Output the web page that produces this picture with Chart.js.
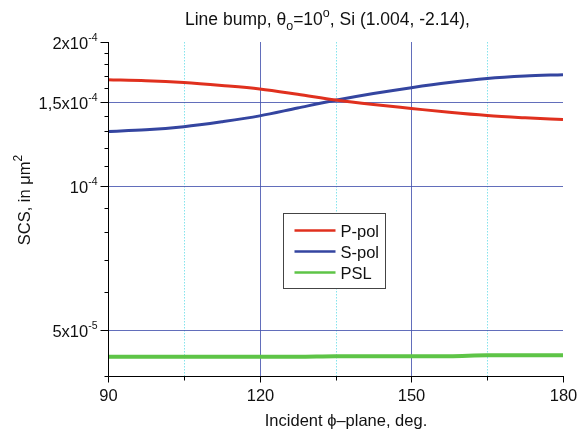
<!DOCTYPE html>
<html>
<head>
<meta charset="utf-8">
<script src="https://cdn.jsdelivr.net/npm/chart.js@4/dist/chart.umd.min.js"></script>
<style>
  html, body { margin: 0; padding: 0; background: #fff; }
  #wrap { width: 583px; height: 432px; }
</style>
</head>
<body>
<div id="wrap"><canvas id="scs" width="583" height="432"></canvas></div>
<script>
// ── Data ──────────────────────────────────────────────────────────────
const phi = [90, 97.5, 105, 112.5, 120, 127.5, 135, 142.5, 150, 157.5, 165, 172.5, 180];
const pPol = [1.668e-4, 1.660e-4, 1.645e-4, 1.622e-4, 1.595e-4, 1.555e-4, 1.513e-4, 1.480e-4, 1.452e-4, 1.425e-4, 1.403e-4, 1.388e-4, 1.376e-4];
const sPol = [1.300e-4, 1.310e-4, 1.330e-4, 1.362e-4, 1.401e-4, 1.455e-4, 1.510e-4, 1.560e-4, 1.605e-4, 1.645e-4, 1.677e-4, 1.697e-4, 1.709e-4];
const psl  = [4.39e-5, 4.39e-5, 4.39e-5, 4.39e-5, 4.39e-5, 4.39e-5, 4.40e-5, 4.40e-5, 4.40e-5, 4.40e-5, 4.42e-5, 4.42e-5, 4.42e-5];

const xMajor = [90, 120, 150, 180];
const xMinor = [105, 135, 165];
const yLabels = [
  { v: 5e-5,   base: '5x10',   exp: '-5' },
  { v: 1e-4,   base: '10',     exp: '-4' },
  { v: 1.5e-4, base: '1,5x10', exp: '-4' },
  { v: 2e-4,   base: '2x10',   exp: '-4' },
];
const yMinor = [4e-5, 6e-5, 7e-5, 8e-5, 9e-5, 1.1e-4, 1.2e-4, 1.3e-4, 1.4e-4, 1.6e-4, 1.7e-4, 1.8e-4, 1.9e-4];

const FONT = '"Liberation Sans", Arial, sans-serif';
const FS = 16.5;
const pts = ys => phi.map((x, i) => ({ x, y: ys[i] }));

// draw a row of text pieces; dy shifts baseline, size overrides font size
function drawRuns(ctx, runs, x, y, align) {
  const widths = runs.map(r => { ctx.font = `${r.size}px ${FONT}`; return ctx.measureText(r.t).width; });
  const total = widths.reduce((a, b) => a + b, 0);
  let cx = align === 'right' ? x - total : align === 'center' ? x - total / 2 : x;
  ctx.textAlign = 'left';
  ctx.textBaseline = 'alphabetic';
  runs.forEach((r, i) => {
    ctx.font = `${r.size}px ${FONT}`;
    ctx.fillText(r.t, cx, y + (r.dy || 0));
    cx += widths[i];
  });
}

// ── Grid lines under the curves ───────────────────────────────────────
const gridPlugin = {
  id: 'gridLines',
  beforeDatasetsDraw(chart) {
    const { ctx, chartArea: a, scales: { x, y } } = chart;
    ctx.save();
    ctx.lineWidth = 1;
    ctx.strokeStyle = 'rgba(120,225,235,0.9)';
    ctx.setLineDash([1.5, 1.5]);
    xMinor.forEach(v => {
      const px = Math.round(x.getPixelForValue(v)) + 0.5;
      ctx.beginPath(); ctx.moveTo(px, a.top); ctx.lineTo(px, a.bottom); ctx.stroke();
    });
    ctx.setLineDash([]);
    ctx.strokeStyle = 'rgba(70,85,175,0.85)';
    [120, 150].forEach(v => {
      const px = Math.round(x.getPixelForValue(v)) + 0.5;
      ctx.beginPath(); ctx.moveTo(px, a.top); ctx.lineTo(px, a.bottom); ctx.stroke();
    });
    [5e-5, 1e-4, 1.5e-4].forEach(v => {
      const py = Math.round(y.getPixelForValue(v)) + 0.5;
      ctx.beginPath(); ctx.moveTo(a.left, py); ctx.lineTo(a.right, py); ctx.stroke();
    });
    ctx.restore();
  },
};

// ── Axes, ticks, labels, titles, legend ───────────────────────────────
const decorPlugin = {
  id: 'decor',
  afterDraw(chart) {
    const { ctx, chartArea: a, scales: { x, y } } = chart;
    ctx.save();
    ctx.strokeStyle = '#000';
    ctx.fillStyle = '#111';
    ctx.lineWidth = 1;

    // axis lines
    const L = Math.round(a.left) + 0.5, B = Math.round(a.bottom) + 0.5;
    ctx.beginPath();
    ctx.moveTo(L, a.top); ctx.lineTo(L, B); ctx.lineTo(a.right + 1, B);
    ctx.stroke();

    // y ticks
    yLabels.forEach(t => {
      const py = Math.round(y.getPixelForValue(t.v)) + 0.5;
      ctx.beginPath(); ctx.moveTo(L - 8, py); ctx.lineTo(L, py); ctx.stroke();
      drawRuns(ctx, [{ t: t.base, size: FS }, { t: t.exp, size: 10.5, dy: -8 }], L - 11, py + 6, 'right');
    });
    yMinor.forEach(v => {
      const py = Math.round(y.getPixelForValue(v)) + 0.5;
      ctx.beginPath(); ctx.moveTo(L - 4, py); ctx.lineTo(L, py); ctx.stroke();
    });

    // x ticks
    xMajor.forEach(v => {
      const px = Math.round(x.getPixelForValue(v)) + 0.5;
      ctx.beginPath(); ctx.moveTo(px, B); ctx.lineTo(px, B + 6); ctx.stroke();
      drawRuns(ctx, [{ t: String(v), size: FS }], px, B + 24, 'center');
    });
    xMinor.forEach(v => {
      const px = Math.round(x.getPixelForValue(v)) + 0.5;
      ctx.beginPath(); ctx.moveTo(px, B); ctx.lineTo(px, B + 4); ctx.stroke();
    });

    // titles
    drawRuns(ctx, [
      { t: 'Line bump, \u03b8', size: 17.5 },
      { t: 'o', size: 12.5, dy: 5 },
      { t: '=10', size: 17.5 },
      { t: 'o', size: 12.5, dy: -8 },
      { t: ', Si (1.004, -2.14),', size: 17.5 },
    ], 185, 25, 'left');
    drawRuns(ctx, [{ t: 'Incident \u03d5\u2013plane, deg.', size: FS }], 346, 426, 'center');

    ctx.save();
    ctx.translate(30, 200);
    ctx.rotate(-Math.PI / 2);
    drawRuns(ctx, [{ t: 'SCS, in \u03bcm', size: FS }, { t: '2', size: 12, dy: -8 }], 0, 0, 'center');
    ctx.restore();

    // legend box
    const lx = 283.5, ly = 213.5, lw = 102, lh = 75;
    ctx.fillStyle = '#fff';
    ctx.fillRect(lx, ly, lw, lh);
    ctx.strokeStyle = '#444';
    ctx.strokeRect(lx, ly, lw, lh);
    chart.data.datasets.forEach((ds, i) => {
      const ry = ly + 17 + i * 21;
      ctx.strokeStyle = ds.borderColor;
      ctx.lineWidth = 2.5;
      ctx.beginPath(); ctx.moveTo(lx + 11, ry); ctx.lineTo(lx + 52, ry); ctx.stroke();
      ctx.fillStyle = '#111';
      drawRuns(ctx, [{ t: ds.label, size: FS }], lx + 57, ry + 6, 'left');
    });
    ctx.restore();
  },
};

new Chart(document.getElementById('scs'), {
  type: 'line',
  data: {
    datasets: [
      { label: 'P-pol', data: pts(pPol), borderColor: '#e0301e', borderWidth: 3 },
      { label: 'S-pol', data: pts(sPol), borderColor: '#3445a0', borderWidth: 3 },
      { label: 'PSL',   data: pts(psl),  borderColor: '#5ec447', borderWidth: 4 },
    ],
  },
  options: {
    responsive: false,
    animation: false,
    events: [],
    layout: { padding: { left: 108, top: 42, right: 20, bottom: 56 } },
    elements: { point: { radius: 0 }, line: { cubicInterpolationMode: 'monotone' } },
    plugins: { legend: { display: false }, tooltip: { enabled: false } },
    scales: {
      x: { type: 'linear', min: 90, max: 180, display: false },
      y: { type: 'logarithmic', min: 4e-5, max: 2e-4, display: false },
    },
  },
  plugins: [gridPlugin, decorPlugin],
});
</script>
</body>
</html>
